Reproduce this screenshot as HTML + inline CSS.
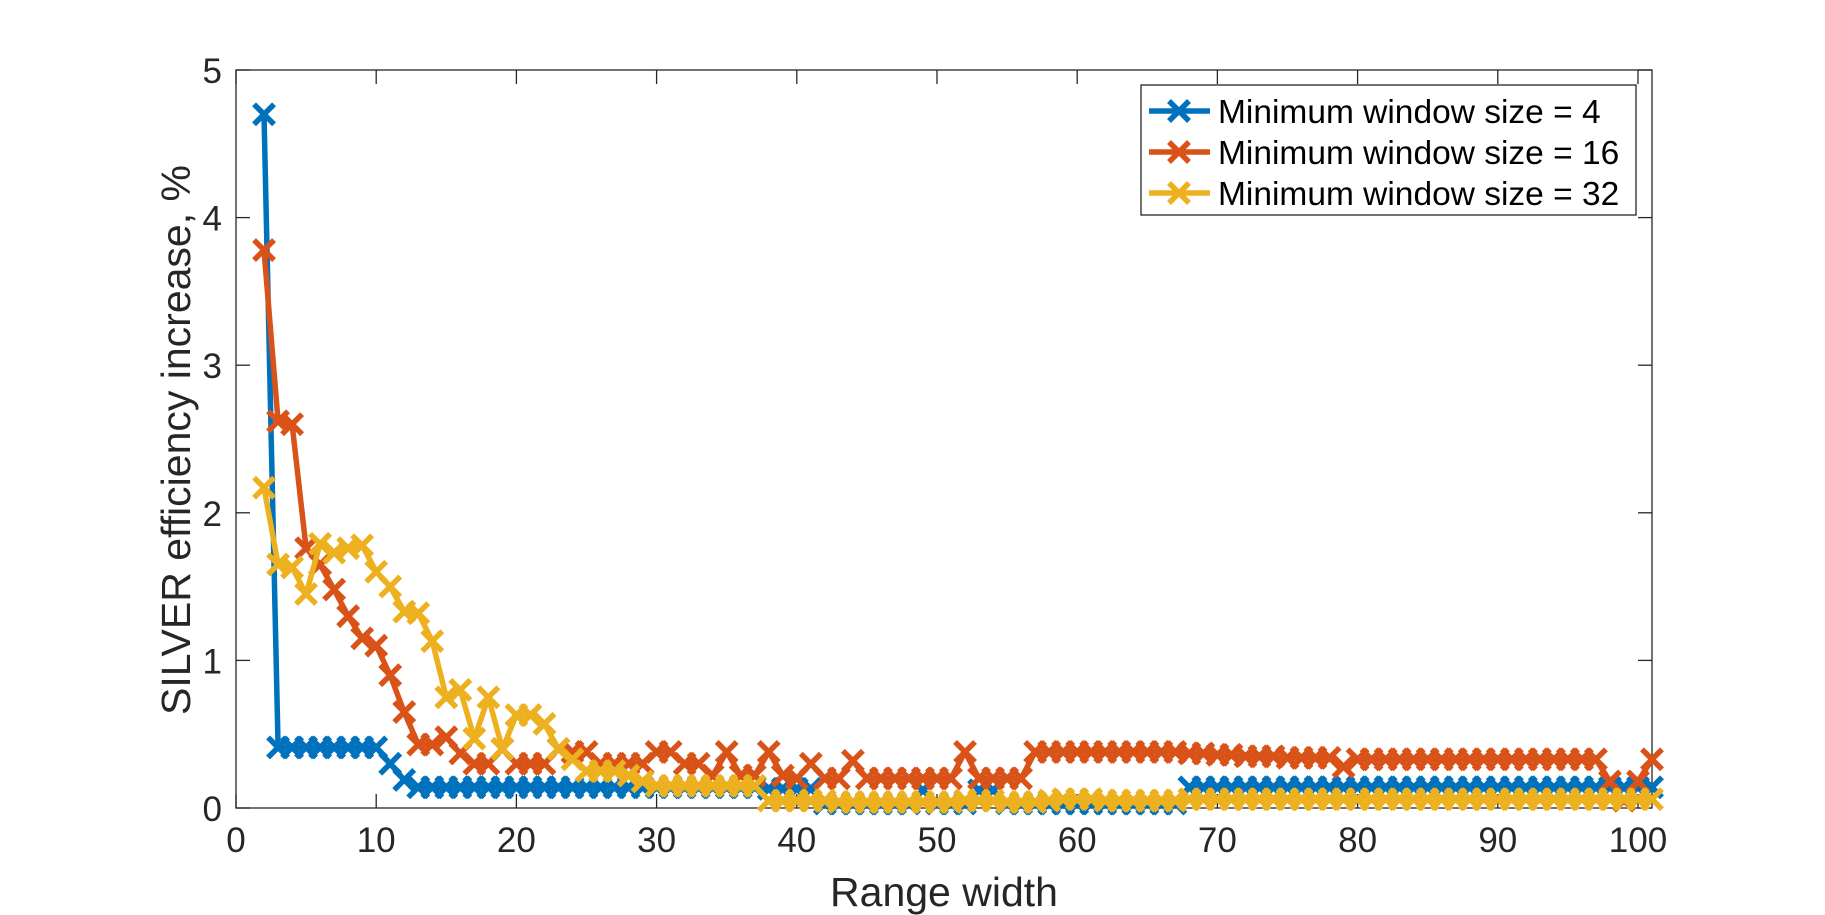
<!DOCTYPE html>
<html><head><meta charset="utf-8"><style>
body{margin:0;background:#fff;}
svg{display:block;font-family:"Liberation Sans",sans-serif;}
</style></head><body>
<svg id="chart" width="1825" height="915">
<rect width="1825" height="915" fill="#fff"/>
<g id="axes"></g>
<g id="series"></g>
<g id="legend"></g>
<text x="944" y="906" font-size="41" fill="#262626" text-anchor="middle">Range width</text>
<text transform="translate(190,440) rotate(-90)" font-size="41" fill="#262626" text-anchor="middle">SILVER efficiency increase, %</text>
</svg>
<script>
const xTicks=[0,10,20,30,40,50,60,70,80,90,100];
const yTicks=[0,1,2,3,4,5];
const seriesNames=["Minimum window size = 4","Minimum window size = 16","Minimum window size = 32"];
const xStart=2;
const blue=[4.7,0.41,0.41,0.41,0.41,0.41,0.41,0.41,0.41,0.30,0.19,0.14,0.14,0.14,0.14,0.14,0.14,0.14,0.14,0.14,0.14,0.14,0.14,0.14,0.14,0.14,0.14,0.14,0.14,0.14,0.14,0.14,0.14,0.14,0.14,0.14,0.13,0.13,0.13,0.13,0.03,0.03,0.03,0.03,0.03,0.03,0.03,0.12,0.03,0.03,0.03,0.12,0.12,0.03,0.03,0.03,0.03,0.03,0.03,0.03,0.03,0.03,0.03,0.03,0.03,0.03,0.14,0.14,0.14,0.14,0.14,0.14,0.14,0.14,0.14,0.14,0.14,0.14,0.14,0.14,0.14,0.14,0.14,0.14,0.14,0.14,0.14,0.14,0.14,0.14,0.14,0.14,0.14,0.14,0.14,0.14,0.14,0.14,0.14,0.14];
const orange=[3.78,2.62,2.6,1.76,1.65,1.48,1.3,1.15,1.1,0.9,0.65,0.43,0.43,0.48,0.37,0.3,0.3,0.4,0.3,0.3,0.3,0.4,0.38,0.38,0.3,0.3,0.3,0.3,0.38,0.38,0.3,0.3,0.22,0.38,0.22,0.22,0.38,0.22,0.2,0.3,0.2,0.2,0.32,0.2,0.2,0.2,0.2,0.2,0.2,0.2,0.38,0.2,0.2,0.2,0.2,0.38,0.38,0.38,0.38,0.38,0.38,0.38,0.38,0.38,0.38,0.38,0.37,0.37,0.36,0.36,0.35,0.35,0.35,0.34,0.34,0.34,0.34,0.28,0.33,0.33,0.33,0.33,0.33,0.33,0.33,0.33,0.33,0.33,0.33,0.33,0.33,0.33,0.33,0.33,0.33,0.33,0.18,0.05,0.18,0.33];
const yellow=[2.17,1.65,1.63,1.45,1.79,1.73,1.76,1.78,1.6,1.5,1.33,1.32,1.13,0.75,0.8,0.47,0.75,0.4,0.63,0.63,0.57,0.4,0.33,0.25,0.25,0.25,0.22,0.18,0.15,0.15,0.15,0.15,0.15,0.15,0.15,0.15,0.05,0.05,0.05,0.05,0.05,0.04,0.04,0.04,0.04,0.04,0.04,0.04,0.04,0.04,0.05,0.05,0.05,0.04,0.04,0.04,0.05,0.06,0.06,0.06,0.05,0.05,0.05,0.05,0.05,0.05,0.06,0.06,0.06,0.06,0.06,0.06,0.06,0.06,0.06,0.06,0.06,0.06,0.06,0.06,0.06,0.06,0.06,0.06,0.06,0.06,0.06,0.06,0.06,0.06,0.06,0.06,0.06,0.06,0.06,0.06,0.06,0.06,0.06,0.06];
const colors=["#0072BD","#D95319","#EDB120"];
const L=236,R=1652,T=70,B=808,xMax=101,yMax=5;
const X=v=>L+(R-L)*v/xMax, Y=v=>B-(B-T)*v/yMax;
const NS="http://www.w3.org/2000/svg";
function mk(tag,attrs,parent){const e=document.createElementNS(NS,tag);for(const k in attrs)e.setAttribute(k,attrs[k]);parent.appendChild(e);return e;}
const ax=document.getElementById('axes');
const frame=mk('rect',{x:L,y:T,width:R-L,height:B-T,fill:'none',stroke:'#262626','stroke-width':1.3},ax);


xTicks.forEach(t=>{const x=X(t);
 mk('line',{x1:x,x2:x,y1:B,y2:B-14,stroke:'#262626','stroke-width':1.3},ax);
 mk('line',{x1:x,x2:x,y1:T,y2:T+14,stroke:'#262626','stroke-width':1.3},ax);
 const tx=mk('text',{x:x,y:B+44,'font-size':35,fill:'#262626','text-anchor':'middle'},ax);tx.textContent=t;
 
 
});
yTicks.forEach(t=>{const y=Y(t);
 mk('line',{x1:L,x2:L+14,y1:y,y2:y,stroke:'#262626','stroke-width':1.3},ax);
 mk('line',{x1:R,x2:R-14,y1:y,y2:y,stroke:'#262626','stroke-width':1.3},ax);
 const tx=mk('text',{x:L-14,y:y+13,'font-size':35,fill:'#262626','text-anchor':'end'},ax);tx.textContent=t;
 
 
});
const sg=document.getElementById('series');
function cross(g,x,y,c,s){mk('path',{d:`M${x-s},${y-s}L${x+s},${y+s}M${x-s},${y+s}L${x+s},${y-s}`,stroke:c,'stroke-width':5.5,fill:'none'},g);}
[blue,orange,yellow].forEach((arr,i)=>{
 const g=mk('g',{},sg);
 
 
 const pts=arr.map((v,j)=>X(xStart+j).toFixed(1)+','+Y(v).toFixed(1)).join(' ');
 mk('polyline',{points:pts,fill:'none',stroke:colors[i],'stroke-width':5.5,'stroke-linejoin':'round'},g);
 arr.forEach((v,j)=>cross(g,X(xStart+j),Y(v),colors[i],10));
});
const lg=document.getElementById('legend');
const box=mk('rect',{x:1141,y:85,width:495,height:130,fill:'#fff',stroke:'#262626','stroke-width':1.3},lg);


seriesNames.forEach((n,i)=>{const y=111+i*41;
 const g=mk('g',{},lg);
 
 
 mk('line',{x1:1149,x2:1210,y1:y,y2:y,stroke:colors[i],'stroke-width':5.5},g);
 cross(g,1179,y,colors[i],10);
 const t=mk('text',{x:1218,y:y+12,'font-size':33.5,fill:'#000'},g);t.textContent=n;
});
</script>
</body></html>
